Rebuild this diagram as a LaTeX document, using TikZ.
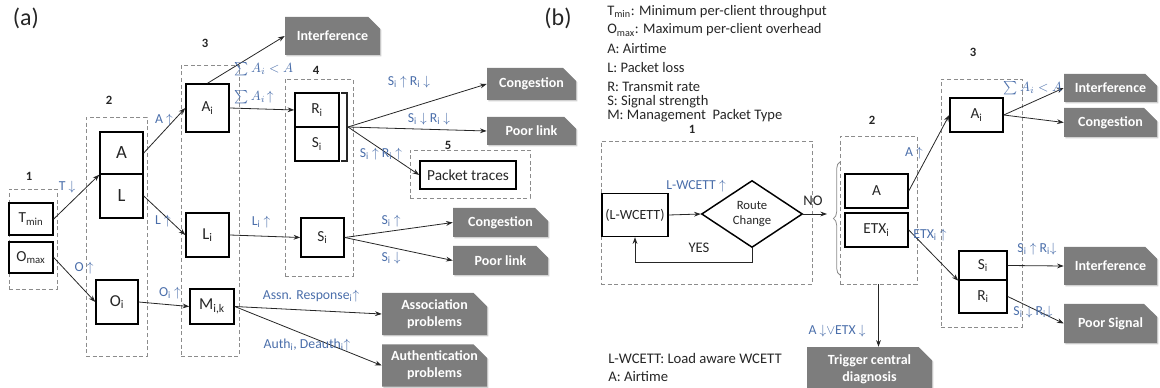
\documentclass[tikz,border=0pt]{standalone}
\usepackage{fontspec}
\setmainfont{Carlito}
\usetikzlibrary{arrows.meta,shapes.geometric,shapes.misc,decorations.pathreplacing,shadows}
\definecolor{lblue}{RGB}{74,110,170}
\definecolor{gbox}{RGB}{125,125,125}
\definecolor{dgray}{RGB}{140,140,140}
\begin{document}
\begin{tikzpicture}[x=0.75pt,y=-0.75pt,
  box/.style={draw=black, fill=white, line width=1.1pt, inner sep=0pt, text=black!85, font=\fontsize{12.5}{14}\selectfont},
  sbox/.style={box, font=\fontsize{11.5}{13}\selectfont},
  grp/.style={draw=dgray, line width=0.7pt, dash pattern=on 3pt off 2pt, inner sep=0pt},
  res/.style={chamfered rectangle, chamfered rectangle corners=north east, chamfered rectangle xsep=5pt, chamfered rectangle ysep=5pt, fill=gbox, text=white, font=\bfseries\fontsize{10.5}{12.5}\selectfont, align=center, inner sep=0pt, drop shadow={shadow xshift=1pt, shadow yshift=-1pt, fill=black!25, opacity=0.7}},
  lbl/.style={text=lblue, font=\fontsize{10.3}{12}\selectfont, inner sep=0pt},
  txt/.style={text=black!85, font=\fontsize{10.9}{12.5}\selectfont, inner sep=0pt},
  btxt/.style={text=black!85, font=\fontsize{11}{13}\selectfont, inner sep=0pt},
  num/.style={text=black!85, font=\bfseries\fontsize{9.5}{11}\selectfont, inner sep=0pt},
  conn/.style={-{Stealth[length=5pt,width=3.6pt]}, line width=0.6pt, draw=black!85},
]
\useasboundingbox (0,0) rectangle (1160,388);

% ================= panel (a) =================
\node[text=black!85, font=\fontsize{18}{20}\selectfont] (la) at (26,18) {(a)};

\node[grp, minimum width=36pt, minimum height=75pt] (g1) at (33,239) {};
\node[grp, minimum width=45.75pt, minimum height=179.25pt] (g2) at (116.5,236.5) {};
\node[grp, minimum width=43.5pt, minimum height=218.25pt] (g3) at (210,210.5) {};
\node[grp, minimum width=51pt, minimum height=147.75pt] (g4) at (319,177.5) {};
\node[grp, minimum width=90pt, minimum height=36pt] (g5) at (470,174) {};

\node[num] (n1) at (29,176) {1};
\node[num] (n2) at (109,100) {2};
\node[num] (n3) at (205,43) {3};
\node[num] (n4) at (316,70) {4};
\node[num] (n5) at (448,145) {5};

\node[sbox, minimum width=33pt, minimum height=24pt] (Tmin) at (31,219) {T\textsubscript{min}};
\node[sbox, minimum width=33pt, minimum height=23.25pt] (Omax) at (31,257.5) {O\textsubscript{max}};
\node[box, font=\fontsize{14}{16}\selectfont, minimum width=32.25pt, minimum height=31.5pt] (A) at (121.5,153) {A};
\node[box, font=\fontsize{14}{16}\selectfont, minimum width=32.25pt, minimum height=33pt] (L) at (121.5,196) {L};
\node[box, minimum width=31.5pt, minimum height=33pt] (Oi) at (117,302) {O\textsubscript{i}};
\node[sbox, minimum width=32.25pt, minimum height=36pt] (Ai) at (207.5,108) {A\textsubscript{i}};
\node[box, minimum width=32.25pt, minimum height=33pt] (Li) at (207.5,235) {L\textsubscript{i}};
\node[box, minimum width=33pt, minimum height=26.25pt] (Mik) at (212,306.5) {M\textsubscript{i,k}};
\node[sbox, minimum width=33pt, minimum height=25.5pt] (Ri) at (317,110) {R\textsubscript{i}};
\node[sbox, minimum width=33pt, minimum height=25.5pt] (Si) at (317,144) {S\textsubscript{i}};
\node[sbox, minimum width=32.25pt, minimum height=29.25pt] (Sl) at (322.5,237.5) {S\textsubscript{i}};
\node[sbox, minimum width=72pt, minimum height=21pt] (PT) at (468,175) {Packet traces};

\draw[line width=0.8pt, draw=black!85] (341,93) -- (347,93) -- (347,161) -- (341,161);
\coordinate (br) at (348,127);

\node[res, minimum width=71.25pt, minimum height=28.5pt] (If1) at (332.5,36) {Interference};
\node[res, minimum width=66.75pt, minimum height=24pt] (Cg1) at (531.5,84) {Congestion};
\node[res, minimum width=66.75pt, minimum height=21pt] (Pl1) at (531.5,131) {Poor link};
\node[res, minimum width=71.25pt, minimum height=21.75pt] (Cg2) at (500.5,222.5) {Congestion};
\node[res, minimum width=71.25pt, minimum height=21.75pt] (Pl2) at (500.5,260.5) {Poor link};
\node[res, minimum width=78.75pt, minimum height=28.5pt] (As) at (434.5,314) {Association\\problems};
\node[res, minimum width=78.75pt, minimum height=27.75pt] (Au) at (434.5,365.5) {Authentication\\problems};

\draw[conn] (Tmin.east) -- (A.south west);
\draw[conn] (Omax.east) -- (Oi.west);
\draw[conn] (A.east) -- (Ai.west);
\draw[conn] (L.east) -- (Li.west);
\draw[conn] (Oi.east) -- (Mik.west);
\draw[conn] (Ai.north) -- (If1.west);
\draw[conn] (Ai.east) -- (Ri.west);
\draw[conn] (Li.east) -- (Sl.west);
\draw[conn] (br) -- (Cg1.west);
\draw[conn] (br) -- (Pl1.west);
\draw[conn] (br) -- (PT.west);
\draw[conn] (Sl.east) -- (Cg2.west);
\draw[conn] (Sl.east) -- (Pl2.west);
\draw[conn] (Mik.east) -- (As.west);
\draw[conn] (Mik.east) -- (Au.west);

\node[lbl] (t1) at (67,187) {T $\downarrow$};
\node[lbl] (t2) at (84,268) {O $\uparrow$};
\node[lbl] (t3) at (164,120) {A $\uparrow$};
\node[lbl] (t4) at (163,221) {L $\uparrow$};
\node[lbl] (t5) at (170,293) {O\textsubscript{i} $\uparrow$};
\node[lbl] (t6) at (264,69) {$\sum A_i < A$};
\node[lbl] (t7) at (254,97) {$\sum A_i\!\uparrow$};
\node[lbl] (t8) at (261,222) {L\textsubscript{i} $\uparrow$};
\node[lbl] (t9) at (409,82) {S\textsubscript{i}\ $\uparrow$\ R\textsubscript{i}\ $\downarrow$};
\node[lbl] (t10) at (429,119) {S\textsubscript{i}\ $\downarrow$\ R\textsubscript{i}\ $\downarrow$};
\node[lbl] (t11) at (381,154) {S\textsubscript{i}\ $\uparrow$\ R\textsubscript{i}\ $\uparrow$};
\node[lbl] (t12) at (391,221) {S\textsubscript{i}\ $\uparrow$};
\node[lbl] (t13) at (391,258) {S\textsubscript{i}\ $\downarrow$};
\node[lbl] (t14) at (311,296) {Assn. Response\textsubscript{i}$\uparrow$};
\node[lbl] (t15) at (307,345) {Auth\textsubscript{i}, Deauth\textsubscript{i}$\uparrow$};

% ================= panel (b) =================
\node[text=black!85, font=\fontsize{18}{20}\selectfont] (lb) at (558,18) {(b)};

\node[txt, anchor=west] (k1) at (607,12) {T\textsubscript{min}: Minimum per-client throughput};
\node[txt, anchor=west] (k2) at (607,30) {O\textsubscript{max}: Maximum per-client overhead};
\node[txt, anchor=west] (k3) at (607,49) {A: Airtime};
\node[txt, anchor=west] (k4) at (607,68) {L: Packet loss};
\node[txt, anchor=west] (k5) at (607,87) {R: Transmit rate};
\node[txt, anchor=west] (k6) at (607,102) {S: Signal strength};
\node[txt, anchor=west] (k7) at (607,116) {M: Management\ \ Packet Type};

\node[grp, minimum width=158.25pt, minimum height=107.25pt] (h1) at (706.5,212.5) {};
\node[grp, minimum width=57.75pt, minimum height=111pt] (h2) at (878.5,210) {};
\node[grp, minimum width=60.75pt, minimum height=186pt] (h3) at (981.5,203) {};

\node[num] (m1) at (692,129) {1};
\node[num] (m2) at (872,120) {2};
\node[num] (m3) at (973,52) {3};

\node[box, font=\fontsize{10.5}{12}\selectfont, minimum width=49.5pt, minimum height=32.25pt] (LW) at (635,215) {(L-WCETT)};
\node[diamond, draw=black, fill=white, line width=1.1pt, inner sep=0pt, align=center, text=black!85, font=\fontsize{9.5}{11}\selectfont, minimum width=75.75pt, minimum height=50.25pt] (dia) at (752,214) {Route\\Change};

\node[sbox, minimum width=47.25pt, minimum height=25.5pt] (Ab) at (876.5,191) {A};
\node[sbox, minimum width=47.25pt, minimum height=25.5pt] (ETX) at (876.5,230) {ETX\textsubscript{i}};
\node[sbox, minimum width=39.75pt, minimum height=25.5pt] (Aib) at (976.5,115) {A\textsubscript{i}};
\node[sbox, minimum width=36pt, minimum height=21.75pt] (Sib) at (983,265.5) {S\textsubscript{i}};
\node[sbox, minimum width=36pt, minimum height=24.75pt] (Rib) at (983,296.5) {R\textsubscript{i}};

\node[res, minimum width=69.75pt, minimum height=21pt] (Ib1) at (1110.5,88) {Interference};
\node[res, minimum width=69.75pt, minimum height=21.75pt] (Cgb) at (1110.5,122.5) {Congestion};
\node[res, minimum width=69.75pt, minimum height=28.5pt] (Ib2) at (1110.5,266) {Interference};
\node[res, minimum width=69.75pt, minimum height=29.25pt] (Ps) at (1110.5,323.5) {Poor Signal};
\node[res, minimum width=93.75pt, minimum height=33pt] (Tr) at (869.5,369) {Trigger central\\diagnosis};

\draw[draw=black!45, line width=0.6pt, decorate, decoration={brace, amplitude=5pt}] (840,275) -- (840,162);
\coordinate (nt) at (827,214);

\draw[conn] (LW.east) -- (dia.west);
\draw[conn] (dia.south) -- ++(0,14) -| (LW.south);
\draw[conn] (dia.east) -- (nt);
\draw[conn] (Ab.east) -- (Aib.west);
\draw[conn] (Aib.east) -- (Ib1.west);
\draw[conn] (Aib.east) -- (Cgb.west);
\draw[conn] (ETX.east) -- (Sib.south west);
\draw[conn] (Sib.east) -- (Ib2.west);
\draw[conn] (Rib.east) -- (Ps.west);
\draw[conn] (h2.south) -- (h2.south |- Tr.north);

\node[lbl] (u1) at (696,186) {L-WCETT $\uparrow$};
\node[btxt] (u2) at (813,201) {NO};
\node[btxt] (u3) at (699,248) {YES};
\node[lbl] (u4) at (914,153) {A $\uparrow$};
\node[lbl] (u5) at (1033,88) {$\sum A_i < A$};
\node[lbl] (u6) at (930,235) {ETX\textsubscript{i} $\uparrow$};
\node[lbl] (u7) at (1037,249) {S\textsubscript{i} $\uparrow$ R\textsubscript{i}$\downarrow$};
\node[lbl] (u8) at (1033,312) {S\textsubscript{i} $\downarrow$ R\textsubscript{i}$\downarrow$};
\node[lbl] (u9) at (837,331) {A $\downarrow$$\vee$ETX $\downarrow$};

\node[btxt, anchor=west] (k8) at (608,358) {L-WCETT: Load aware WCETT};
\node[btxt, anchor=west] (k9) at (608,376) {A: Airtime};
\end{tikzpicture}
\end{document}
